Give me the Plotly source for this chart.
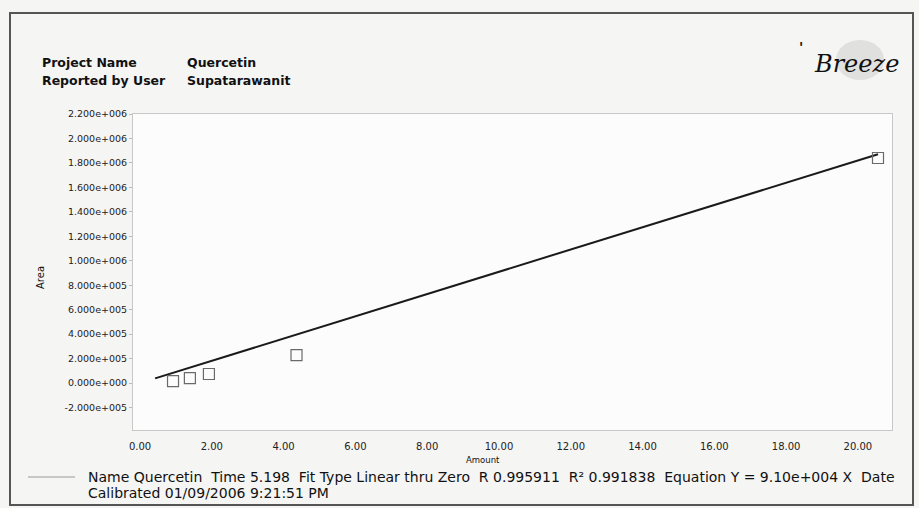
import plotly.graph_objects as go

# Calibration standards (amount vs. peak area)
amount = [0.92, 1.39, 1.92, 4.36, 20.56]
area = [16000, 41000, 74000, 229000, 1840000]

# Linear fit through zero
fit_slope = 9.10e4
fit_x_range = [0.42, 20.56]

y_tick_vals = [-2e5, 0, 2e5, 4e5, 6e5, 8e5, 1e6, 1.2e6, 1.4e6, 1.6e6, 1.8e6, 2e6, 2.2e6]
y_tick_labels = ["-2.000e+005", "0.000e+000", "2.000e+005", "4.000e+005", "6.000e+005",
                 "8.000e+005", "1.000e+006", "1.200e+006", "1.400e+006", "1.600e+006",
                 "1.800e+006", "2.000e+006", "2.200e+006"]
x_tick_vals = [0, 2, 4, 6, 8, 10, 12, 14, 16, 18, 20]
x_tick_labels = ["0.00", "2.00", "4.00", "6.00", "8.00", "10.00", "12.00",
                 "14.00", "16.00", "18.00", "20.00"]

W, H = 919, 508
L, R, T, B = 133, 892, 114, 430


def px(x):
    return (x - L) / (R - L)


def py(y):
    return (B - y) / (B - T)


FONT = "DejaVu Sans, Liberation Sans, Arial, sans-serif"

fig = go.Figure()

fig.add_trace(go.Scatter(
    x=fit_x_range,
    y=[fit_slope * v for v in fit_x_range],
    mode="lines",
    line=dict(color="#1a1a1a", width=2),
    showlegend=False,
    hoverinfo="skip",
))

fig.add_trace(go.Scatter(
    x=amount, y=area,
    mode="markers",
    marker=dict(symbol="square-open", size=11, color="#6a6a6a", line=dict(width=1.2)),
    showlegend=False,
))

annotations = []


def text(x, y, s, size=12, bold=False, xanchor="left", color="#111", angle=0, family=FONT):
    annotations.append(dict(
        x=px(x), y=py(y), xref="paper", yref="paper",
        text=f"<b>{s}</b>" if bold else s,
        showarrow=False, xanchor=xanchor, yanchor="middle",
        textangle=angle,
        font=dict(family=family, size=size, color=color),
    ))


text(40, 62, "Project Name", 12.5, True)
text(185, 62, "Quercetin", 12.5, True)
text(40, 80, "Reported by User", 12.5, True)
text(185, 80, "Supatarawanit", 12.5, True)
text(40, 278, "Area", 10, False, "center", angle=-90)
text(483, 460, "Amount", 8.5, False, "center")
text(86, 477, "Name Quercetin  Time 5.198  Fit Type Linear thru Zero  R 0.995911  R² 0.991838  "
              "Equation Y = 9.10e+004 X  Date", 14)
text(86, 493, "Calibrated 01/09/2006 9:21:51 PM", 14)
text(856, 64, "<i>Breeze</i>", 24, False, "center", color="#111",
     family="DejaVu Serif, serif")
text(801, 47, "'", 14, True, "center")

shapes = [
    # outer frame of the report
    dict(type="rect", xref="paper", yref="paper",
         x0=px(10), x1=px(913), y0=py(13), y1=py(505),
         line=dict(color="#555", width=2), layer="below"),
    # legend line sample
    dict(type="line", xref="paper", yref="paper",
         x0=px(28), x1=px(75), y0=py(477), y1=py(477),
         line=dict(color="#999", width=1)),
    # soft grey smudge behind the logo
    dict(type="circle", xref="paper", yref="paper",
         x0=px(836), x1=px(884), y0=py(40), y1=py(80),
         fillcolor="rgba(150,150,150,0.22)", line=dict(width=0), layer="below"),
]

fig.update_layout(
    width=W, height=H,
    margin=dict(l=L, r=W - R, t=T, b=H - B),
    paper_bgcolor="#f5f5f4",
    plot_bgcolor="#fcfcfc",
    font=dict(family=FONT, color="#111"),
    annotations=annotations,
    shapes=shapes,
    showlegend=False,
)

fig.update_xaxes(
    range=[-0.195, 20.95],
    tickvals=x_tick_vals, ticktext=x_tick_labels,
    tickfont=dict(size=10, color="#222"),
    showgrid=False, zeroline=False,
    showline=True, linecolor="#c8c8c8", linewidth=1, mirror=True,
    ticks="", ticklabelstandoff=7,
)

fig.update_yaxes(
    range=[-0.384e6, 2.2e6],
    tickvals=y_tick_vals, ticktext=y_tick_labels,
    tickfont=dict(size=9.5, color="#222"),
    showgrid=False, zeroline=False,
    showline=True, linecolor="#c8c8c8", linewidth=1, mirror=True,
    ticks="outside", ticklen=3, tickcolor="#bbb",
)

fig.write_html("out.html")
